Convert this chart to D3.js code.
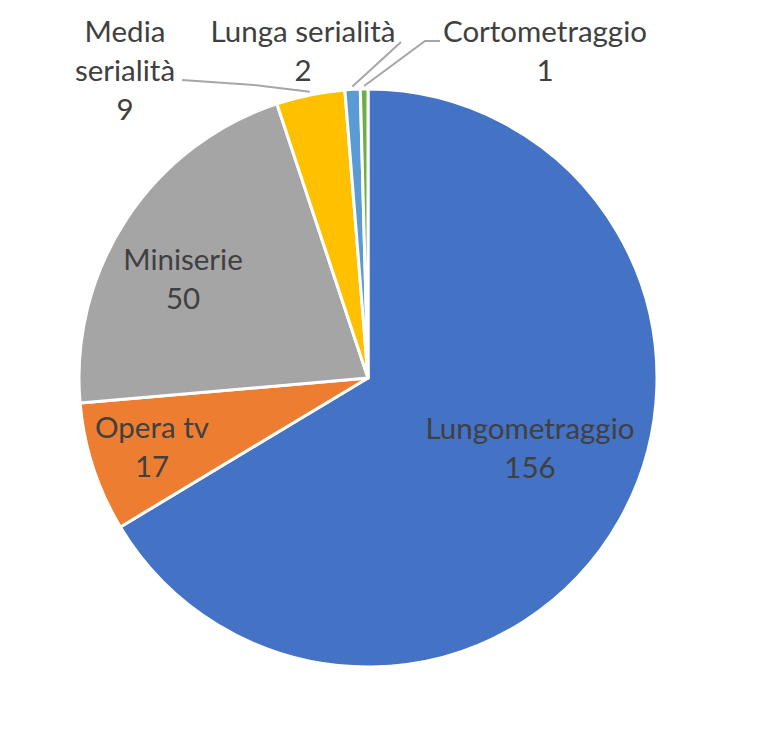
<!DOCTYPE html>
<html>
<head>
<meta charset="utf-8">
<script src="https://cdn.jsdelivr.net/npm/d3@7"></script>
<style>
  body { margin: 0; background: #fff; }
  text { font-family: Lato, "Open Sans", sans-serif; fill: #404040; }
</style>
</head>
<body>
<div id="chart"></div>
<script>
// data
const categories = ["Lungometraggio", "Opera tv", "Miniserie", "Media serialità", "Lunga serialità", "Cortometraggio"];
const values = [156, 17, 50, 9, 2, 1];
const colors = ["#4472C4", "#ED7D31", "#A5A5A5", "#FFC000", "#5B9BD5", "#70AD47"];

const width = 778, height = 756;
const cx = 368, cy = 378, radius = 289;

const svg = d3.select("#chart").append("svg")
    .attr("width", width)
    .attr("height", height);

const g = svg.append("g").attr("transform", `translate(${cx},${cy})`);

const data = categories.map((c, i) => ({ name: c, value: values[i], color: colors[i] }));

const pie = d3.pie().value(d => d.value).sort(null);
const arcs = pie(data);
const arc = d3.arc().innerRadius(0).outerRadius(radius);

g.selectAll("path")
    .data(arcs)
    .join("path")
    .attr("d", arc)
    .attr("fill", d => d.data.color)
    .attr("stroke", "#fff")
    .attr("stroke-width", 3)
    .attr("stroke-linejoin", "round");

// label layout: center x, first baseline, and text lines (page coords)
const fs = 29.5, lh = 39;
const labelPos = {
    "Lungometraggio": { x: 530, y: 439, lines: ["Lungometraggio"] },
    "Opera tv": { x: 152, y: 438, lines: ["Opera tv"] },
    "Miniserie": { x: 183, y: 270, lines: ["Miniserie"] },
    "Media serialità": { x: 125, y: 42, lines: ["Media", "serialità"], leader: [[182, 80], [254, 85]] },
    "Lunga serialità": { x: 303, y: 42, lines: ["Lunga serialità"], leader: [[401, 42]] },
    "Cortometraggio": { x: 545, y: 42, lines: ["Cortometraggio"], leader: [[440, 41], [425, 41]] }
};

const labels = svg.append("g");

arcs.forEach(d => {
    const o = labelPos[d.data.name];
    const t = labels.append("text")
        .attr("text-anchor", "middle")
        .attr("font-size", fs)
        .attr("x", o.x)
        .attr("y", o.y);
    o.lines.concat([d.data.value]).forEach((s, i) => {
        t.append("tspan").attr("x", o.x).attr("dy", i === 0 ? 0 : lh).text(s);
    });

    if (o.leader) {
        const mid = (d.startAngle + d.endAngle) / 2;
        const end = [cx + Math.sin(mid) * (radius + 3), cy - Math.cos(mid) * (radius + 3)];
        svg.append("polyline")
            .attr("points", o.leader.concat([end]).map(p => p.join(",")).join(" "))
            .attr("fill", "none")
            .attr("stroke", "#A6A6A6")
            .attr("stroke-width", 2);
    }
});
</script>
</body>
</html>
